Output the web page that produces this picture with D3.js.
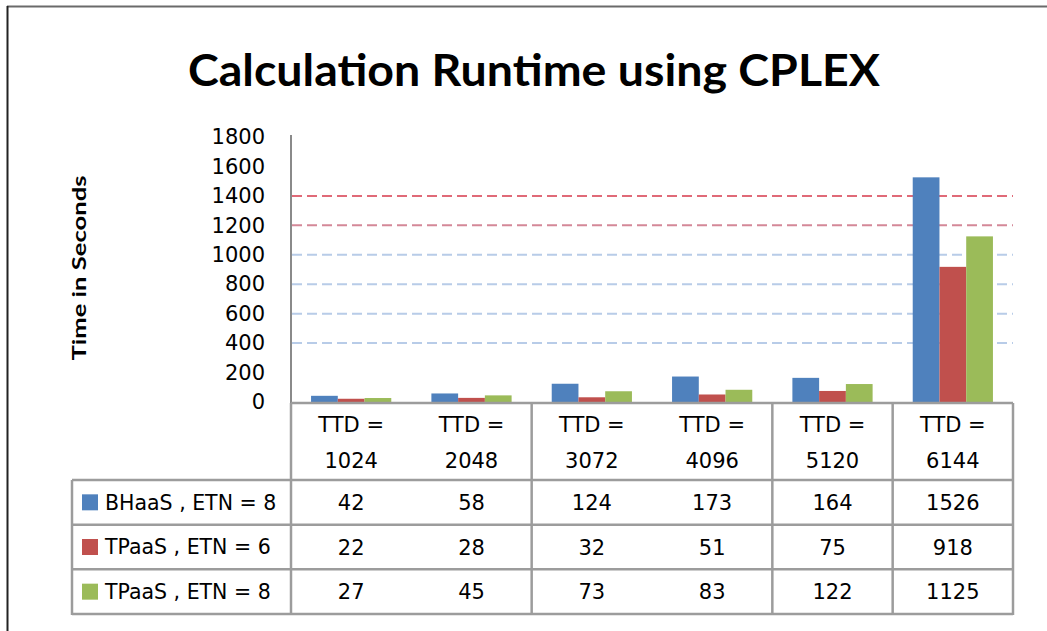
<!DOCTYPE html>
<html>
<head>
<meta charset="utf-8">
<script src="https://cdn.jsdelivr.net/npm/d3@7"></script>
<style>
	body { margin: 0; background: #fff; }
	text { font-family: "DejaVu Sans", sans-serif; fill: #000; }
</style>
</head>
<body>
<svg id="chart" width="1047" height="631"></svg>
<script>
// chart data
var categories = ["1024", "2048", "3072", "4096", "5120", "6144"];
var seriesNames = ["BHaaS , ETN = 8", "TPaaS , ETN = 6", "TPaaS , ETN = 8"];
var bhaas8 = [42, 58, 124, 173, 164, 1526];
var tpaas6 = [22, 28, 32, 51, 75, 918];
var tpaas8 = [27, 45, 73, 83, 122, 1125];
var yTicks = [0, 200, 400, 600, 800, 1000, 1200, 1400, 1600, 1800];
var blueGrid = [400, 600, 800, 1000];
var redGrid = [1200, 1400];
var colors = ["#4F81BD", "#C0504D", "#9BBB59"];

var seriesValues = [bhaas8, tpaas6, tpaas8];

var svg = d3.select("#chart");

// frame
svg.append("line").attr("x1", 7).attr("x2", 1047).attr("y1", 6.5).attr("y2", 6.5)
	.attr("stroke", "#6a6a6a").attr("stroke-width", 2);
svg.append("line").attr("x1", 7.5).attr("x2", 7.5).attr("y1", 6).attr("y2", 631)
	.attr("stroke", "#222").attr("stroke-width", 2);

// title
svg.append("text")
	.attr("x", 188).attr("y", 86)
	.attr("textLength", 692).attr("lengthAdjust", "spacingAndGlyphs")
	.style("font-family", "Lato, 'Open Sans', sans-serif")
	.style("font-weight", "bold").style("font-size", "44px")
	.text("Calculation Runtime using CPLEX");

// scales
var x = d3.scaleBand()
	.domain(categories)
	.range([291, 1013]);

var xs = d3.scaleBand()
	.domain(d3.range(seriesNames.length))
	.range([0, x.bandwidth()])
	.paddingOuter(0.75);

var y = d3.scaleLinear()
	.domain([0, 1800])
	.range([402, 137]);

// gridlines
svg.append("g").selectAll("line")
	.data(blueGrid)
	.enter().append("line")
	.attr("x1", 292).attr("x2", 1013)
	.attr("y1", (d) => y(d)).attr("y2", (d) => y(d))
	.attr("stroke", "#B8CCE8").attr("stroke-width", 2)
	.attr("stroke-dasharray", "10,5");

svg.append("g").selectAll("line")
	.data(redGrid)
	.enter().append("line")
	.attr("x1", 292).attr("x2", 1013)
	.attr("y1", (d) => y(d)).attr("y2", (d) => y(d))
	.attr("stroke", (d) => d == 1400 ? "#E06A78" : "#D48898").attr("stroke-width", 2)
	.attr("stroke-dasharray", "10,5");

// y axis
var yAxis = svg.append("g")
	.attr("transform", "translate(291,0)")
	.call(d3.axisLeft(y).tickValues(yTicks).tickFormat(d3.format("d")).tickSize(0).tickPadding(26));
yAxis.select(".domain").attr("stroke", "#8a8a8a").attr("stroke-width", 2)
	.attr("d", "M0," + (y(1800) - 2) + "V" + (y(0) + 1));
yAxis.selectAll("text")
	.style("font-family", "'DejaVu Sans', sans-serif")
	.style("font-size", "21px").attr("fill", "#000");

svg.append("text")
	.attr("transform", "translate(86,268) rotate(-90)")
	.attr("text-anchor", "middle")
	.attr("textLength", 185).attr("lengthAdjust", "spacingAndGlyphs")
	.style("font-family", "Lato, sans-serif")
	.style("font-weight", "bold").style("font-size", "19px")
	.text("Time in Seconds");

// bars
var groups = svg.append("g").selectAll("g")
	.data(seriesValues)
	.enter().append("g")
	.attr("fill", (d, i) => colors[i]);

groups.each(function(vals, si) {
	d3.select(this).selectAll("rect")
		.data(vals)
		.enter().append("rect")
		.attr("x", (d, i) => x(categories[i]) + xs(si))
		.attr("y", (d) => y(d))
		.attr("width", xs.bandwidth())
		.attr("height", (d) => y(0) - y(d));
});

// data table
var rowY = d3.scaleBand()
	.domain(d3.range(seriesNames.length))
	.range([480, 614]);

var headerTop = 403;
var tableLeft = 72;
var tableRight = 1013;
var lineColor = "#9c9c9c";
var table = svg.append("g");

// header text
categories.forEach(function(c) {
	var t = table.append("text")
		.attr("text-anchor", "middle")
		.style("font-size", "21px");
	t.append("tspan").attr("x", x(c) + x.bandwidth() / 2).attr("y", 432).text("TTD =");
	t.append("tspan").attr("x", x(c) + x.bandwidth() / 2).attr("y", 468).text(c);
});

// horizontal rules
table.append("line")
	.attr("x1", 291).attr("x2", tableRight)
	.attr("y1", headerTop).attr("y2", headerTop)
	.attr("stroke", lineColor).attr("stroke-width", 2.5);
table.selectAll(".hrule")
	.data(d3.range(seriesNames.length + 1))
	.enter().append("line")
	.attr("class", "hrule")
	.attr("x1", tableLeft).attr("x2", tableRight)
	.attr("y1", (d) => d < seriesNames.length ? rowY(d) : rowY(d - 1) + rowY.bandwidth())
	.attr("y2", (d) => d < seriesNames.length ? rowY(d) : rowY(d - 1) + rowY.bandwidth())
	.attr("stroke", lineColor).attr("stroke-width", 2.5);

// vertical rules (the picture shows only some of the column dividers)
var dividerAfter = [-1, 1, 3, 4, 5];
table.selectAll(".vrule")
	.data(dividerAfter)
	.enter().append("line")
	.attr("class", "vrule")
	.attr("x1", (d) => x.range()[0] + (d + 1) * x.bandwidth())
	.attr("x2", (d) => x.range()[0] + (d + 1) * x.bandwidth())
	.attr("y1", headerTop).attr("y2", rowY(2) + rowY.bandwidth() + 1)
	.attr("stroke", lineColor).attr("stroke-width", 2.5);
table.append("line")
	.attr("x1", tableLeft).attr("x2", tableLeft)
	.attr("y1", rowY(0)).attr("y2", rowY(2) + rowY.bandwidth() + 1)
	.attr("stroke", lineColor).attr("stroke-width", 2.5);

// rows
seriesValues.forEach(function(vals, si) {
	var cy = rowY(si) + rowY.bandwidth() / 2;
	table.append("rect")
		.attr("x", 82).attr("y", cy - 8)
		.attr("width", 16).attr("height", 16)
		.attr("fill", colors[si]);
	table.append("text")
		.attr("x", 105).attr("y", cy)
		.attr("dy", "0.36em")
		.style("font-size", "20.5px")
		.text(seriesNames[si]);
	table.selectAll(".v" + si)
		.data(vals)
		.enter().append("text")
		.attr("class", "v" + si)
		.attr("x", (d, i) => x(categories[i]) + x.bandwidth() / 2)
		.attr("y", cy)
		.attr("dy", "0.36em")
		.attr("text-anchor", "middle")
		.style("font-size", "21px")
		.text((d) => d);
});
</script>
</body>
</html>
